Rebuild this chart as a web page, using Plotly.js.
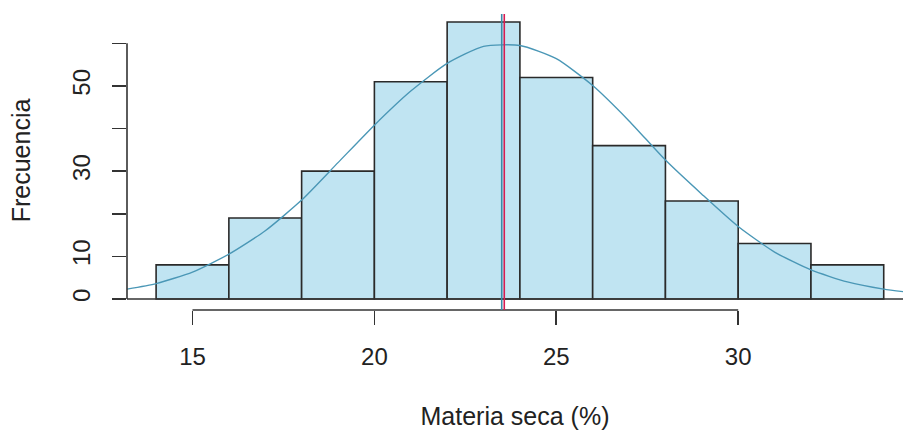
<!DOCTYPE html>
<html>
<head>
<meta charset="utf-8">
<script src="https://cdn.plot.ly/plotly-3.0.1.min.js"></script>
<style>html,body{margin:0;padding:0;background:#fff;}#chart{width:903px;height:432px;}</style>
</head>
<body>
<div id="chart"></div>
<script>
// Histogram bins (Materia seca %), bin width 2
const binCenters = [15, 17, 19, 21, 23, 25, 27, 29, 31, 33];
const binCounts  = [8, 19, 30, 51, 65, 52, 36, 23, 13, 8];
const binWidth = 2;

// Fitted curve
const curveX = [13.2, 14, 15, 16, 17, 18, 19, 20, 21, 22, 23, 24, 25, 26, 27, 28, 29, 30, 31, 32, 33, 34, 34.55];
const curveY = [2.3, 3.6, 6.3, 10.5, 16.0, 23.2, 32.0, 40.8, 48.8, 55.3, 59.3, 59.5, 56.4, 50.1, 41.8, 32.6, 24.6, 17.0, 11.0, 6.8, 4.0, 2.3, 1.7];

// Vertical reference lines (mean / median)
const meanValue = 23.50;
const medianValue = 23.57;

const xTicks = [15, 20, 25, 30];
const yTicks = [0, 10, 20, 30, 40, 50, 60];
const yTickText = ['0', '10', '', '30', '', '50', ''];

const FONT = 'Liberation Sans, Arial, sans-serif';

const traces = [
  {
    type: 'bar', x: binCenters, y: binCounts, width: binWidth,
    marker: {color: '#c0e4f2', line: {color: '#2a2a2a', width: 1.6}},
    hoverinfo: 'x+y', showlegend: false
  },
  {
    type: 'scatter', mode: 'lines', x: curveX, y: curveY,
    line: {color: '#4a97b6', width: 1.4, shape: 'spline', smoothing: 0.6},
    showlegend: false, cliponaxis: true
  }
];

const layout = {
  width: 903, height: 432,
  margin: {l: 127, r: 0, t: 11, b: 122},
  paper_bgcolor: '#fff', plot_bgcolor: '#fff',
  font: {family: FONT, size: 24, color: '#222'},
  bargap: 0,
  xaxis: {
    range: [13.2, 34.53], showgrid: false, zeroline: false, showline: false,
    tickvals: xTicks, ticks: 'outside', ticklen: 14, tickwidth: 1.6, tickcolor: '#333',
    ticklabelstandoff: 11,
    tickfont: {size: 24, color: '#222'},
    title: {text: 'Materia seca (%)', standoff: 38, font: {size: 25, color: '#222'}}
  },
  yaxis: {
    range: [-2.6, 67.6], showgrid: false, zeroline: false, showline: false,
    tickvals: yTicks, ticktext: yTickText, tickangle: -90,
    ticks: 'outside', ticklen: 14, tickwidth: 1.6, tickcolor: '#333',
    ticklabelstandoff: 12,
    tickfont: {size: 24, color: '#222'},
    title: {text: 'Frecuencia', standoff: 30, font: {size: 25, color: '#222'}}
  },
  shapes: [
    {type: 'line', xref: 'x', yref: 'paper', x0: xTicks[0], x1: xTicks[xTicks.length - 1], y0: 0, y1: 0,
     line: {color: '#333', width: 1.6}},
    {type: 'line', xref: 'paper', yref: 'y', x0: 0, x1: 0, y0: yTicks[0], y1: yTicks[yTicks.length - 1],
     line: {color: '#333', width: 1.6}},
    {type: 'line', xref: 'paper', yref: 'y', x0: 0, x1: 1, y0: 0, y1: 0,
     line: {color: '#333', width: 1.6}, layer: 'above'},
    {type: 'line', xref: 'x', yref: 'paper', x0: meanValue, x1: meanValue, y0: 0, y1: 0.99,
     line: {color: '#3a8aa8', width: 1.6}, layer: 'above'},
    {type: 'line', xref: 'x', yref: 'paper', x0: medianValue, x1: medianValue, y0: 0, y1: 0.99,
     line: {color: '#d61c52', width: 1.6}, layer: 'above'}
  ]
};

Plotly.newPlot('chart', traces, layout, {displayModeBar: false, staticPlot: true});
</script>
</body>
</html>
